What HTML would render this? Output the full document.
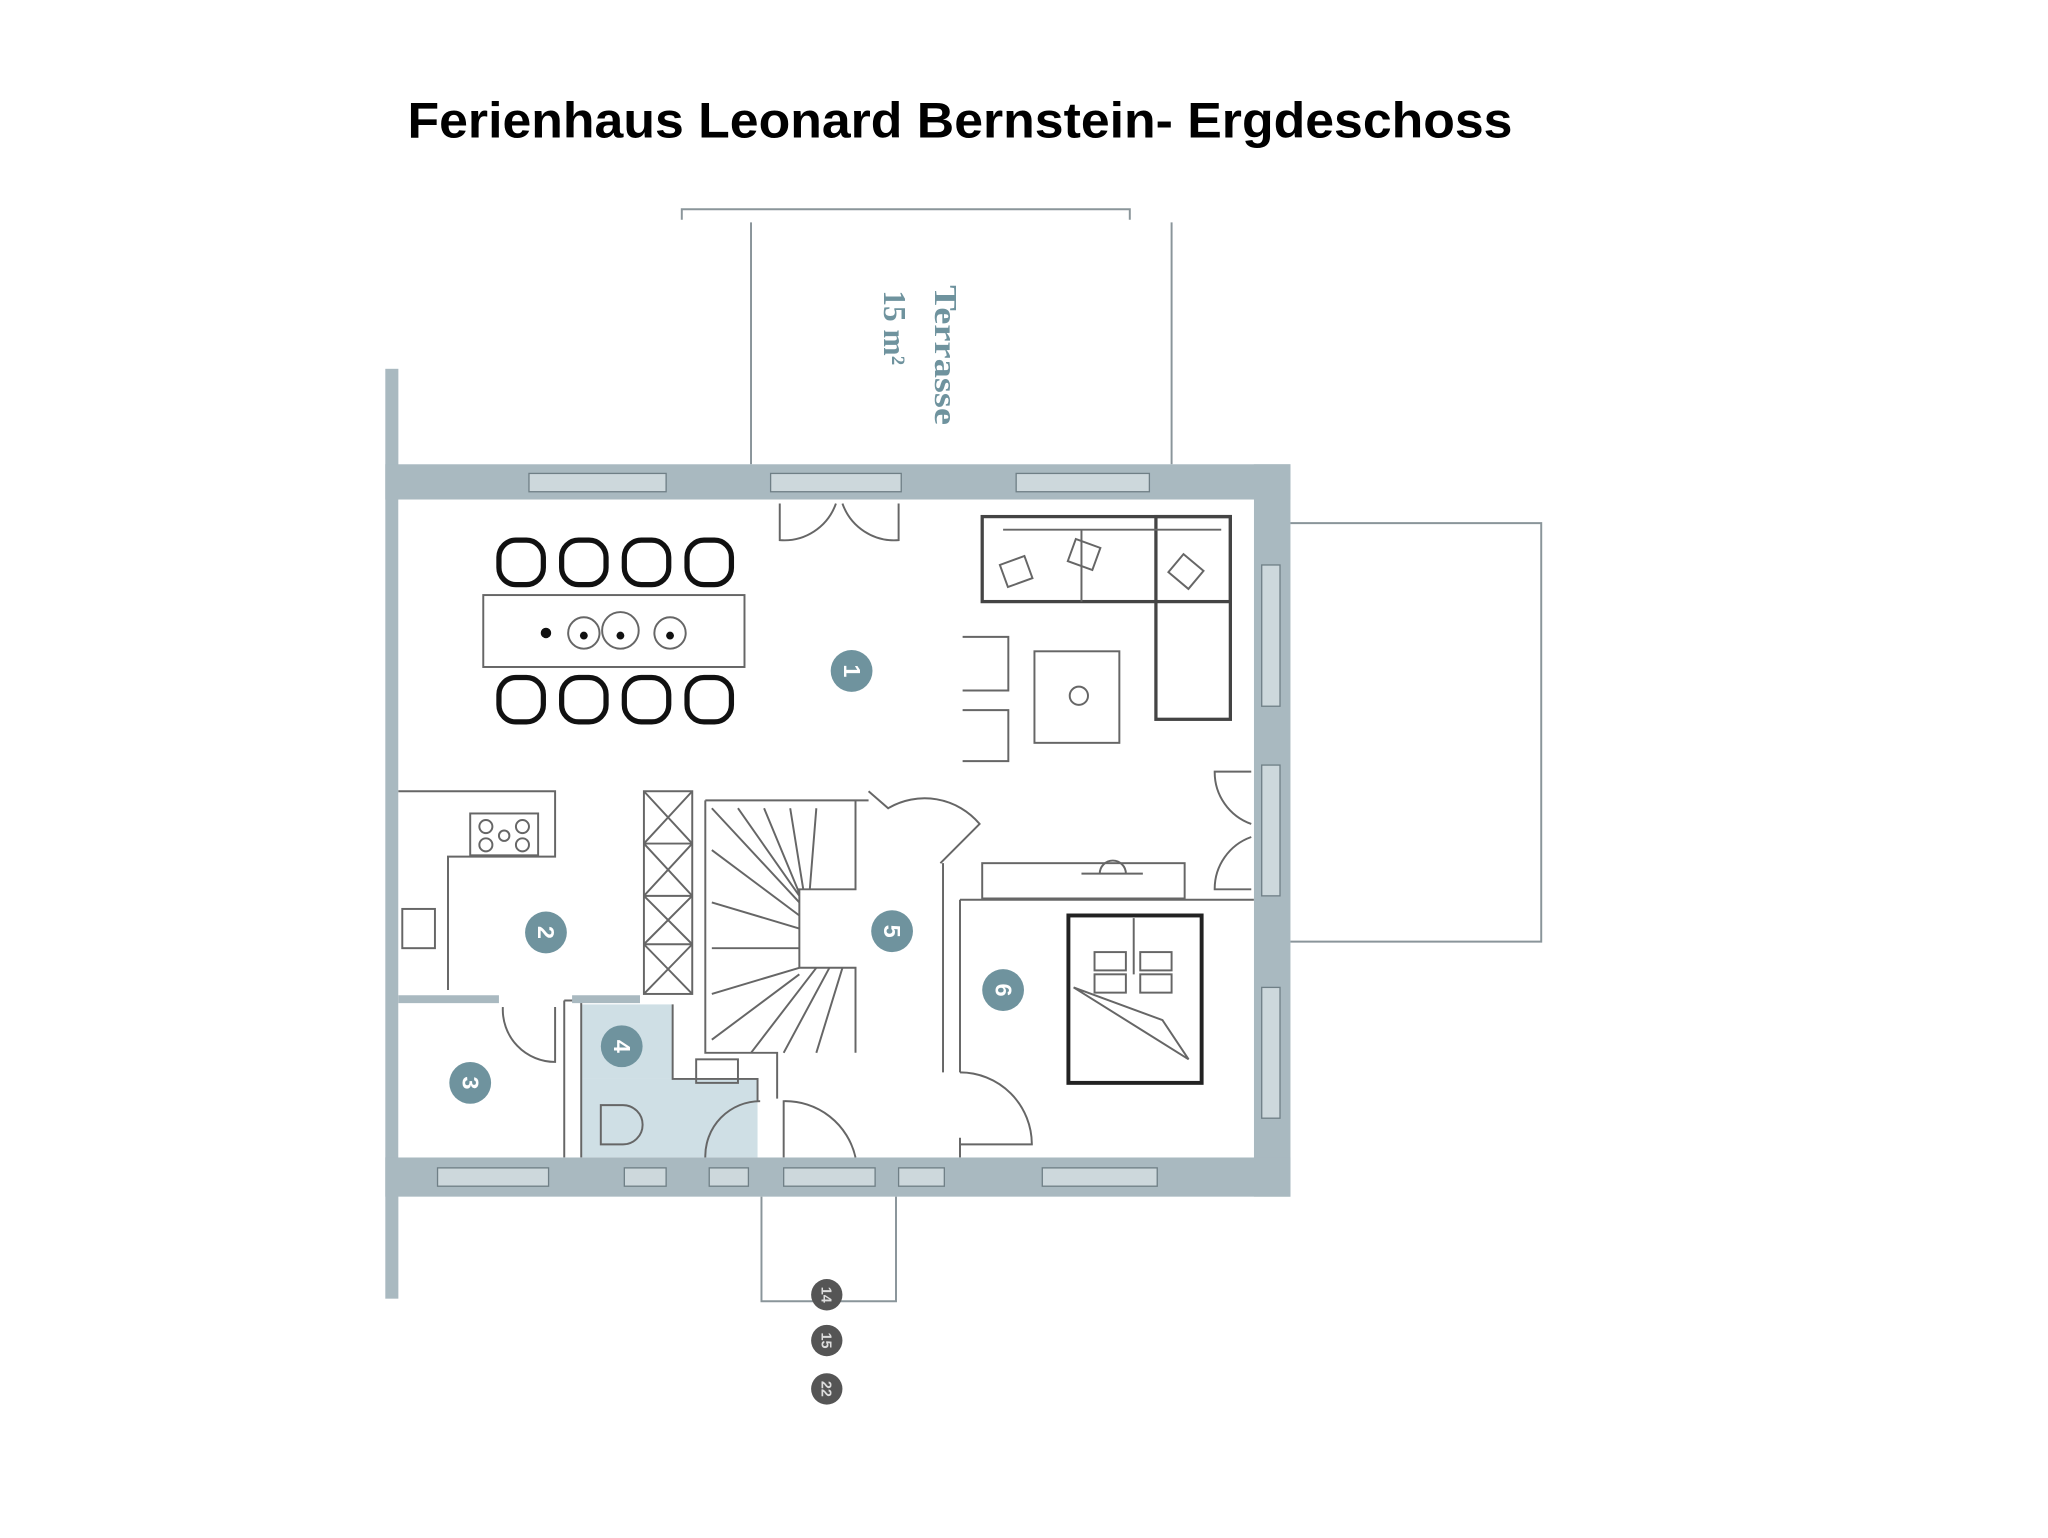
<!DOCTYPE html>
<html><head><meta charset="utf-8"><style>
html,body{margin:0;padding:0;background:#fff;}
svg{display:block;}
</style></head><body>
<svg width="2048" height="1538" viewBox="0 0 1568 1176" preserveAspectRatio="none" xmlns="http://www.w3.org/2000/svg">
<rect width="1568" height="1176" fill="#fff"/>
<text x="312" y="105" font-family="Liberation Sans, sans-serif" font-weight="bold" font-size="38" textLength="846" lengthAdjust="spacingAndGlyphs" fill="#000">Ferienhaus Leonard Bernstein- Ergdeschoss</text>

<!-- terrace -->
<g stroke="#8a959a" stroke-width="1.5" fill="none">
<path d="M522 168 V160 H865 V168"/>
<path d="M575 170 V355 M897 170 V355"/>
<path d="M988 400 H1180 V720 H988"/>
<path d="M583 915 V995 H686 V915"/>
</g>
<text transform="translate(716,218) rotate(90)" font-family="Liberation Serif, serif" font-weight="bold" font-size="24" textLength="107" lengthAdjust="spacingAndGlyphs" fill="#6f939e">Terrasse</text>
<text transform="translate(677,222) rotate(90)" font-family="Liberation Serif, serif" font-weight="bold" font-size="24" fill="#6f939e">15 m²</text>

<!-- walls -->
<g fill="#a9b9c0">
<rect x="295" y="282" width="10" height="711"/>
<rect x="295" y="355" width="693" height="27"/>
<rect x="960" y="355" width="28" height="560"/>
<rect x="295" y="885" width="693" height="30"/>
</g>
<!-- windows -->
<g fill="#cdd8dc" stroke="#6f7f86" stroke-width="1">
<rect x="405" y="362" width="105" height="14"/>
<rect x="590" y="362" width="100" height="14"/>
<rect x="778" y="362" width="102" height="14"/>
<rect x="966" y="432" width="14" height="108"/>
<rect x="966" y="585" width="14" height="100"/>
<rect x="966" y="755" width="14" height="100"/>
<rect x="335" y="893" width="85" height="14"/>
<rect x="478" y="893" width="32" height="14"/>
<rect x="543" y="893" width="30" height="14"/>
<rect x="600" y="893" width="70" height="14"/>
<rect x="688" y="893" width="35" height="14"/>
<rect x="798" y="893" width="88" height="14"/>
</g>
<rect x="305" y="382" width="655" height="503" fill="#fff"/>

<!-- bath -->
<rect x="445" y="768" width="70" height="57" fill="#cfdfe5"/>
<rect x="445" y="825" width="135" height="60" fill="#cfdfe5"/>

<g stroke="#666" stroke-width="1.5" fill="none">
<path d="M597 385 V413 A42 42 0 0 0 640 385"/>
<path d="M688 385 V413 A42 42 0 0 1 645 385"/>
<path d="M305 605 H425 V655 H343 V757"/>
<rect x="360" y="622" width="52" height="32"/>
<circle cx="372" cy="632" r="5"/><circle cx="400" cy="632" r="5"/><circle cx="372" cy="646" r="5"/><circle cx="400" cy="646" r="5"/><circle cx="386" cy="639" r="4"/>
<rect x="308" y="695" width="25" height="30"/>
<rect x="493" y="605" width="37" height="155"/>
<path d="M493 605 L530 645 M530 605 L493 645 M493 645 L530 685 M530 645 L493 685 M493 685 L530 722 M530 685 L493 722 M493 722 L530 760 M530 722 L493 760 M493 645 H530 M493 685 H530 M493 722 H530"/>
<path d="M540 612 H665 M540 612 V805 H595 V840 M655 612 V680 H612 V740 H655 V805"/>
<path d="M545 618 L612 690 M565 618 L612 685 M585 618 L612 683 M605 618 L615 680 M625 618 L620 680 M545 650 L612 700 M545 690 L612 710 M545 725 L612 725 M545 760 L612 740 M545 795 L612 745 M575 805 L625 740 M600 805 L635 740 M625 805 L645 740"/>
<path d="M665 605 L680 618 A55 55 0 0 1 750 630 L720 660"/>
<path d="M722 660 V820 M735 688 H960 M735 688 V820 M735 885 V870"/>
<path d="M735 820 A55 55 0 0 1 790 875 H735"/>
<path d="M600 885 V842 A55 55 0 0 1 655 885"/>
<path d="M540 885 A42 42 0 0 1 582 842"/>
<rect x="752" y="660" width="155" height="27"/>
<path d="M828 668 H875 M842 668 A10 10 0 0 1 862 668"/>
<path d="M958 590 H930 A42 42 0 0 0 958 630 M958 680 H930 A42 42 0 0 1 958 640"/>
<path d="M385 770 A40 40 0 0 0 425 812 V770"/>
<rect x="752" y="395" width="190" height="65" stroke-width="2.5" stroke="#444"/>
<rect x="885" y="395" width="57" height="155" stroke-width="2.5" stroke="#444"/>
<path d="M768 405 H935 M828 405 V460"/>
<rect x="768" y="428" width="20" height="18" transform="rotate(-20 778 437)"/>
<rect x="820" y="415" width="20" height="18" transform="rotate(20 830 424)"/>
<rect x="898" y="428" width="20" height="18" transform="rotate(40 908 437)"/>
<path d="M737 487 H772 V528 H737 M737 543 H772 V582 H737"/>
<rect x="792" y="498" width="65" height="70"/>
<circle cx="826" cy="532" r="7"/>
<rect x="370" y="455" width="200" height="55"/>
<circle cx="447" cy="484" r="12"/><circle cx="475" cy="482" r="14"/><circle cx="513" cy="484" r="12"/>
<rect x="818" y="700" width="102" height="128" stroke-width="3" stroke="#222"/>
<path d="M868 702 V745 M822 755 L910 810 L890 780 Z"/>
<rect x="838" y="728" width="24" height="14"/><rect x="873" y="728" width="24" height="14"/>
<rect x="838" y="745" width="24" height="14"/><rect x="873" y="745" width="24" height="14"/>
<path d="M460 845 H477 A15 15 0 0 1 477 875 H460 Z"/>
<rect x="533" y="810" width="32" height="18"/>
<path d="M445 765 V885 M432 765 V885 M432 765 H490 M515 768 V825 H580 V842"/>
</g>
<g stroke="#a9b9c0" stroke-width="6"><path d="M305 764 H382 M438 764 H490"/></g>
<g stroke="#111" stroke-width="4" fill="none">
<rect x="382" y="413" width="34" height="34" rx="13"/><rect x="430" y="413" width="34" height="34" rx="13"/><rect x="478" y="413" width="34" height="34" rx="13"/><rect x="526" y="413" width="34" height="34" rx="13"/>
<rect x="382" y="518" width="34" height="34" rx="13"/><rect x="430" y="518" width="34" height="34" rx="13"/><rect x="478" y="518" width="34" height="34" rx="13"/><rect x="526" y="518" width="34" height="34" rx="13"/>
</g>
<g fill="#111"><circle cx="418" cy="484" r="4"/><circle cx="447" cy="486" r="3"/><circle cx="475" cy="486" r="3"/><circle cx="513" cy="486" r="3"/></g>

<g font-family="Liberation Sans, sans-serif" font-weight="bold" font-size="18" fill="#fff" text-anchor="middle">
<circle cx="652" cy="513" r="16" fill="#6f939e"/><text transform="translate(646,513) rotate(90)">1</text>
<circle cx="418" cy="713" r="16" fill="#6f939e"/><text transform="translate(412,713) rotate(90)">2</text>
<circle cx="360" cy="828" r="16" fill="#6f939e"/><text transform="translate(354,828) rotate(90)">3</text>
<circle cx="476" cy="800" r="16" fill="#6f939e"/><text transform="translate(470,800) rotate(90)">4</text>
<circle cx="683" cy="712" r="16" fill="#6f939e"/><text transform="translate(677,712) rotate(90)">5</text>
<circle cx="768" cy="757" r="16" fill="#6f939e"/><text transform="translate(762,757) rotate(90)">6</text>
</g>
<g font-family="Liberation Sans, sans-serif" font-weight="bold" font-size="11" fill="#ddd" text-anchor="middle">
<circle cx="633" cy="990" r="12" fill="#555"/><text transform="translate(629,990) rotate(90)">14</text>
<circle cx="633" cy="1025" r="12" fill="#555"/><text transform="translate(629,1025) rotate(90)">15</text>
<circle cx="633" cy="1062" r="12" fill="#555"/><text transform="translate(629,1062) rotate(90)">22</text>
</g>
</svg>
</body></html>
